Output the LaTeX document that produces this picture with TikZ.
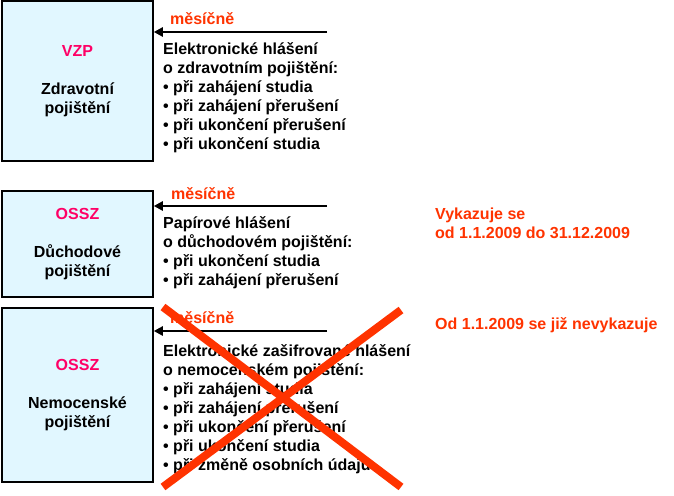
\documentclass[tikz,border=0pt]{standalone}
\usepackage{fontspec}
\setmainfont{Liberation Sans}
\usetikzlibrary{
    arrows.meta,
    positioning
}
\definecolor{boxfill}{RGB}{225,247,255}
\definecolor{warnred}{RGB}{255,51,0}
\definecolor{instpink}{RGB}{255,0,102}
\tikzset{
    box/.style={draw=black, line width=1.5pt, fill=boxfill, minimum width=151pt,
        inner sep=0pt, align=center, font=\bfseries\fontsize{16}{19}\selectfont},
    feed/.style={line width=2.5pt, -{Triangle[length=9pt,width=9pt]}},
    period/.style={text=warnred, inner sep=0pt, anchor=base west,
        font=\bfseries\fontsize{16}{19}\selectfont},
    report/.style={inner sep=0pt, anchor=base west, align=left,
        font=\bfseries\fontsize{16}{19}\selectfont},
    note/.style={text=warnred, inner sep=0pt, anchor=base west, align=left,
        font=\bfseries\fontsize{16}{19}\selectfont},
    cancel/.style={draw=warnred, line width=8pt}
}

\begin{document}
\begin{tikzpicture}[x=1pt, y=-1pt]
                    \useasboundingbox (0, 0) rectangle (674, 495);

                    % zdravotni pojisteni (base = last line)
                    \node[box, minimum height=160pt] (vzp) at (77.5, 81)
                        {\textcolor{instpink}{VZP}\\[19pt]Zdravotní\\pojištění};
                    \coordinate (src1) at (327, 32);
                    \draw[feed] (src1) -- (src1 -| vzp.east);
                    \node[period] (per1) at (170, 25) {měsíčně};
                    \node[report] (rep1) at (163, 149) {Elektronické hlášení\\o zdravotním pojištění:\\%
                        • při zahájení studia\\• při zahájení přerušení\\• při ukončení přerušení\\• při ukončení studia};

                    % duchodove pojisteni
                    \node[box, minimum height=106pt] (ossza) at (77.5, 244)
                        {\textcolor{instpink}{OSSZ}\\[19pt]Důchodové\\pojištění};
                    \coordinate (src2) at (327, 206);
                    \draw[feed] (src2) -- (src2 -| ossza.east);
                    \node[period] (per2) at (171, 199) {měsíčně};
                    \node[report] (rep2) at (163, 285) {Papírové hlášení\\o důchodovém pojištění:\\%
                        • při ukončení studia\\• při zahájení přerušení};
                    \node[note] (note2) at (435, 238) {Vykazuje se\\od 1.1.2009 do 31.12.2009};

                    % nemocenske pojisteni
                    \node[box, minimum height=174pt] (osszb) at (77.5, 395)
                        {\textcolor{instpink}{OSSZ}\\[19pt]Nemocenské\\pojištění};
                    \coordinate (src3) at (327, 331);
                    \draw[feed] (src3) -- (src3 -| osszb.east);
                    \node[period] (per3) at (170, 323) {měsíčně};
                    \node[report] (rep3) at (163, 470) {Elektronické zašifrované hlášení\\o nemocenském pojištění:\\%
                        • při zahájení studia\\• při zahájení přerušení\\• při ukončení přerušení\\• při ukončení studia\\%
                        • při změně osobních údajů};
                    \node[note] (note3) at (435, 329) {Od 1.1.2009 se již nevykazuje};

                    % cross
                    \coordinate (c1) at (163, 307);
                    \coordinate (c2) at (401, 487);
                    \coordinate (c3) at (401, 310);
                    \coordinate (c4) at (163, 487);
                    \draw[cancel] (c1) -- (c2);
                    \draw[cancel] (c3) -- (c4);
                \end{tikzpicture}
\end{document}
